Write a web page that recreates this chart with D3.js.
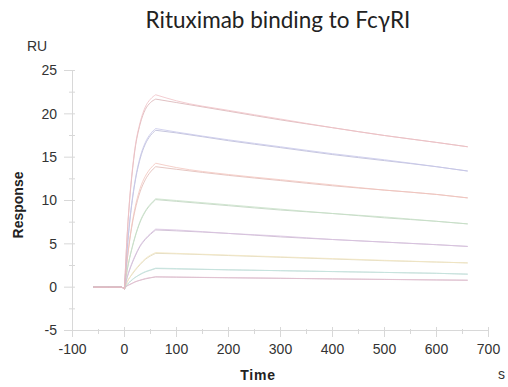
<!DOCTYPE html>
<html>
<head>
<meta charset="utf-8">
<script src="https://cdn.jsdelivr.net/npm/d3@7"></script>
<style>
  body { margin: 0; background: #fff; }
</style>
</head>
<body>
<div id="chart"></div>
<script>
// sensorgram sample times (s)
const times = [-60, -30, -5, 0, 5, 10, 15, 20, 30, 40, 50, 60, 100, 200, 300, 400, 500, 600, 660];

// measured responses (RU), one per concentration, high to low
const meas1 = [0, 0, 0, -0.2, 5.9, 10.3, 13.5, 16.0, 19.0, 20.8, 21.7, 22.2, 21.5, 20.4, 19.4, 18.4, 17.5, 16.7, 16.2];
const meas2 = [0, 0, 0, -0.2, 4.3, 7.6, 10.2, 12.2, 15.0, 16.7, 17.7, 18.3, 17.9, 17.0, 16.2, 15.4, 14.7, 13.9, 13.4];
const meas3 = [0, 0, 0, -0.2, 3.1, 5.5, 7.5, 9.1, 11.4, 12.8, 13.7, 14.3, 13.8, 13.0, 12.4, 11.8, 11.2, 10.7, 10.3];
const meas4 = [0, 0, 0, -0.2, 1.9, 3.4, 4.7, 5.8, 7.6, 8.8, 9.6, 10.2, 10.0, 9.5, 9.0, 8.5, 8.1, 7.6, 7.3];
const meas5 = [0, 0, 0, -0.2, 1.1, 2.1, 2.9, 3.6, 4.8, 5.6, 6.2, 6.7, 6.6, 6.2, 5.9, 5.5, 5.2, 4.9, 4.7];
const meas6 = [0, 0, 0, -0.2, 0.6, 1.1, 1.6, 2.0, 2.7, 3.3, 3.7, 4.0, 3.9, 3.7, 3.5, 3.3, 3.1, 2.9, 2.8];
const meas7 = [0, 0, 0, -0.2, 0.3, 0.6, 0.9, 1.1, 1.5, 1.8, 2.0, 2.2, 2.15, 2.0, 1.9, 1.8, 1.7, 1.6, 1.5];
const meas8 = [0, 0, 0, -0.2, 0.15, 0.3, 0.45, 0.6, 0.8, 1.0, 1.1, 1.2, 1.17, 1.1, 1.03, 0.96, 0.9, 0.84, 0.8];

// fitted curves
const fit1 = [0, 0, 0, -0.2, 5.8, 10.1, 13.3, 15.8, 18.8, 20.5, 21.3, 21.7, 21.3, 20.3, 19.3, 18.4, 17.5, 16.7, 16.2];
const fit2 = [0, 0, 0, -0.2, 4.2, 7.5, 10.0, 12.0, 14.8, 16.5, 17.5, 18.1, 17.8, 16.9, 16.1, 15.3, 14.6, 13.9, 13.4];
const fit3 = [0, 0, 0, -0.2, 3.0, 5.4, 7.3, 8.8, 11.0, 12.4, 13.3, 13.9, 13.6, 12.9, 12.3, 11.7, 11.2, 10.7, 10.3];
const fit4 = [0, 0, 0, -0.2, 1.9, 3.4, 4.6, 5.7, 7.5, 8.7, 9.5, 10.1, 9.9, 9.4, 8.9, 8.5, 8.0, 7.6, 7.3];
const fit5 = [0, 0, 0, -0.2, 1.1, 2.0, 2.8, 3.5, 4.7, 5.5, 6.1, 6.6, 6.5, 6.2, 5.8, 5.5, 5.2, 4.9, 4.7];
const fit6 = [0, 0, 0, -0.2, 0.6, 1.1, 1.5, 1.9, 2.6, 3.2, 3.6, 3.9, 3.85, 3.65, 3.45, 3.25, 3.05, 2.9, 2.8];
const fit7 = [0, 0, 0, -0.2, 0.3, 0.6, 0.85, 1.1, 1.45, 1.75, 1.95, 2.15, 2.1, 2.0, 1.9, 1.8, 1.7, 1.6, 1.5];
const fit8 = [0, 0, 0, -0.2, 0.15, 0.3, 0.45, 0.6, 0.8, 0.95, 1.08, 1.18, 1.15, 1.08, 1.02, 0.95, 0.89, 0.83, 0.8];

const measured = [meas1, meas2, meas3, meas4, meas5, meas6, meas7, meas8];
const fits = [fit1, fit2, fit3, fit4, fit5, fit6, fit7, fit8];
const measColors = ["#f0c0c5", "#c6c6ea", "#f2c4bc", "#c6e0c6", "#d8c2e0", "#f2e6c2", "#c4e4de", "#e3c0d0"];
const fitColors = ["#d8b0b2", "#b8b8d6", "#e0b8b2", "#bcd2bc", "#c6b2cc", "#dcd4b6", "#bcd2ce", "#cdb0c0"];

const xTicks = [-100, 0, 100, 200, 300, 400, 500, 600, 700];
const yTicks = [-5, 0, 5, 10, 15, 20, 25];

const w = 508, h = 387;
const labelFont = "'Liberation Sans', Arial, Helvetica, sans-serif";
const svg = d3.select("#chart").append("svg")
    .attr("width", w)
    .attr("height", h);

const xScale = d3.scaleLinear().domain([-100, 700]).range([72.5, 488.5]);
const yScale = d3.scaleLinear().domain([-5, 25]).range([330.5, 70.5]);
const axisColor = "#d8d8d8";

// title
svg.append("text")
    .attr("x", 278).attr("y", 28)
    .attr("text-anchor", "middle")
    .attr("font-family", "Lato, 'Open Sans', sans-serif")
    .attr("font-size", 22.5)
    .attr("fill", "#222")
    .text("Rituximab binding to FcγRI");

// y axis
const gy = svg.append("g");
gy.append("line")
    .attr("x1", 72.5).attr("x2", 72.5)
    .attr("y1", yScale(25)).attr("y2", 337)
    .attr("stroke", axisColor);
gy.selectAll(".ymaj").data(yTicks).enter().append("line")
    .attr("x1", 64).attr("x2", 75)
    .attr("y1", d => yScale(d)).attr("y2", d => yScale(d))
    .attr("stroke", axisColor);
gy.selectAll(".ymin").data(d3.range(-2.5, 25, 5)).enter().append("line")
    .attr("x1", 69).attr("x2", 75)
    .attr("y1", d => yScale(d)).attr("y2", d => yScale(d))
    .attr("stroke", axisColor);
gy.selectAll("text").data(yTicks).enter().append("text")
    .attr("x", 57).attr("y", d => yScale(d))
    .attr("dy", "0.35em")
    .attr("text-anchor", "end")
    .attr("font-family", labelFont)
    .attr("font-size", 14)
    .attr("fill", "#333")
    .text(d => d);

// x axis
const gx = svg.append("g");
gx.append("line")
    .attr("x1", xScale(-100)).attr("x2", xScale(700))
    .attr("y1", 330.5).attr("y2", 330.5)
    .attr("stroke", axisColor);
gx.selectAll(".xmaj").data(xTicks).enter().append("line")
    .attr("x1", d => xScale(d)).attr("x2", d => xScale(d))
    .attr("y1", 327).attr("y2", 337)
    .attr("stroke", axisColor);
gx.selectAll(".xmin").data(d3.range(-50, 700, 100)).enter().append("line")
    .attr("x1", d => xScale(d)).attr("x2", d => xScale(d))
    .attr("y1", 329).attr("y2", 334)
    .attr("stroke", axisColor);
gx.selectAll("text").data(xTicks).enter().append("text")
    .attr("x", d => xScale(d)).attr("y", 354)
    .attr("text-anchor", "middle")
    .attr("font-family", labelFont)
    .attr("font-size", 14)
    .attr("fill", "#333")
    .text(d => d);

// axis labels
svg.append("text")
    .attr("x", 27).attr("y", 51)
    .attr("font-family", labelFont)
    .attr("font-size", 14)
    .attr("fill", "#333")
    .text("RU");
svg.append("text")
    .attr("transform", "translate(23,205) rotate(-90)")
    .attr("text-anchor", "middle")
    .attr("font-family", labelFont)
    .attr("font-size", 14)
    .attr("font-weight", "bold")
    .attr("fill", "#222")
    .text("Response");
svg.append("text")
    .attr("x", 258).attr("y", 380)
    .attr("text-anchor", "middle")
    .attr("font-family", labelFont)
    .attr("font-size", 14)
    .attr("font-weight", "bold")
    .attr("letter-spacing", 0.8)
    .attr("fill", "#222")
    .text("Time");
svg.append("text")
    .attr("x", 498).attr("y", 379)
    .attr("font-family", labelFont)
    .attr("font-size", 14)
    .attr("fill", "#333")
    .text("s");

// sensorgram lines: baseline straight, association and dissociation smoothed
const lineLin = d3.line().x(d => xScale(d[0])).y(d => yScale(d[1]));
const lineSmooth = d3.line().x(d => xScale(d[0])).y(d => yScale(d[1])).curve(d3.curveMonotoneX);

function drawSeries(vals, color, width) {
    const pts = times.map((t, i) => [t, vals[i]]);
    const base = pts.filter(p => p[0] <= 0);
    const assoc = pts.filter(p => p[0] >= 0 && p[0] <= 60);
    const dissoc = pts.filter(p => p[0] >= 60);
    const g = svg.append("g")
        .attr("fill", "none")
        .attr("stroke", color)
        .attr("stroke-width", width);
    g.append("path").attr("d", lineLin(base));
    g.append("path").attr("d", lineSmooth(assoc));
    g.append("path").attr("d", lineSmooth(dissoc));
}

// draw low to high so the top curves sit on top
for (let i = measured.length - 1; i >= 0; i--) {
    drawSeries(fits[i], fitColors[i], 0.8);
    drawSeries(measured[i], measColors[i], 0.8);
}
</script>
</body>
</html>
